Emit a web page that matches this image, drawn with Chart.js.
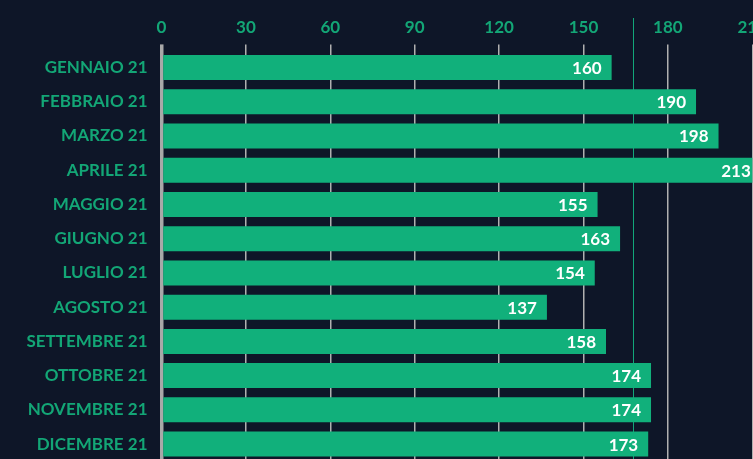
<!DOCTYPE html>
<html>
<head>
<meta charset="utf-8">
<script src="https://cdn.jsdelivr.net/npm/chart.js@4.4.1/dist/chart.umd.min.js"></script>
<style>
  html, body { margin: 0; padding: 0; background: #0e1628; overflow: hidden; width: 753px; height: 459px; }
  #c { position: absolute; left: 0; top: 0; }
</style>
</head>
<body>
<canvas id="c" width="800" height="462" style="width:800px;height:462px"></canvas>
<script>
const categories = ["GENNAIO 21","FEBBRAIO 21","MARZO 21","APRILE 21","MAGGIO 21","GIUGNO 21","LUGLIO 21","AGOSTO 21","SETTEMBRE 21","OTTOBRE 21","NOVEMBRE 21","DICEMBRE 21"];
const values = [160,190,198,213,155,163,154,137,158,174,174,173];
const referenceValue = [167.6];
const tickValues = [0,30,60,90,120,150,180,210];

const GREEN = '#11b07b';
const LABEL_GREEN = '#13a676';
const FONT = 'Lato';

const refLinePlugin = {
  id: 'refLine',
  beforeDatasetsDraw(chart) {
    const ctx = chart.ctx;
    const x = Math.round(chart.scales.x.getPixelForValue(referenceValue[0])) + 0.5;
    ctx.save();
    ctx.strokeStyle = '#12a679';
    ctx.lineWidth = 1;
    ctx.beginPath();
    ctx.moveTo(x, 18);
    ctx.lineTo(x, chart.height);
    ctx.stroke();
    ctx.restore();
  }
};

const valueLabelPlugin = {
  id: 'valueLabels',
  afterDatasetsDraw(chart) {
    const ctx = chart.ctx;
    const meta = chart.getDatasetMeta(0);
    ctx.save();
    ctx.fillStyle = '#ffffff';
    ctx.font = 'bold 17px ' + FONT;
    ctx.textAlign = 'right';
    ctx.textBaseline = 'middle';
    meta.data.forEach((el, i) => {
      ctx.fillText(String(values[i]), el.x - 10, el.y + 1);
    });
    ctx.restore();
  }
};

new Chart(document.getElementById('c'), {
  type: 'bar',
  data: {
    labels: categories,
    datasets: [{
      data: values,
      backgroundColor: GREEN,
      borderWidth: 0,
      barPercentage: 0.73,
      categoryPercentage: 1.0
    }]
  },
  options: {
    indexAxis: 'y',
    responsive: false,
    maintainAspectRatio: false,
    devicePixelRatio: 1,
    animation: false,
    layout: { padding: { left: 0, right: 47.7, top: 0, bottom: 0.8 } },
    plugins: { legend: { display: false }, tooltip: { enabled: false } },
    scales: {
      x: {
        position: 'top',
        min: 0,
        max: 210,
        afterBuildTicks(scale) { scale.ticks = tickValues.map(v => ({ value: v })); },
        afterFit(scale) { scale.height = 50.4; scale.paddingLeft = 0; scale.paddingRight = 0; },
        ticks: {
          color: LABEL_GREEN,
          font: { family: FONT, weight: 'bold', size: 17 },
          padding: 7,
          maxRotation: 0
        },
        grid: {
          color: ctx => ctx.tick && ctx.tick.value === 0 ? '#a8a8a8' : '#b0b0b0',
          lineWidth: ctx => ctx.tick && ctx.tick.value === 0 ? 3.5 : 1.5,
          drawTicks: true,
          tickLength: 6,
          tickColor: ctx => ctx.tick && ctx.tick.value === 0 ? '#a8a8a8' : '#b0b0b0'
        },
        border: { display: false }
      },
      y: {
        afterFit(scale) { scale.width = 161.5; scale.paddingTop = 0; scale.paddingBottom = 0; },
        ticks: {
          color: LABEL_GREEN,
          font: { family: FONT, weight: 'bold', size: 17 },
          padding: 14
        },
        grid: { display: false, drawTicks: false },
        border: { display: false }
      }
    }
  },
  plugins: [refLinePlugin, valueLabelPlugin]
});
</script>
</body>
</html>
